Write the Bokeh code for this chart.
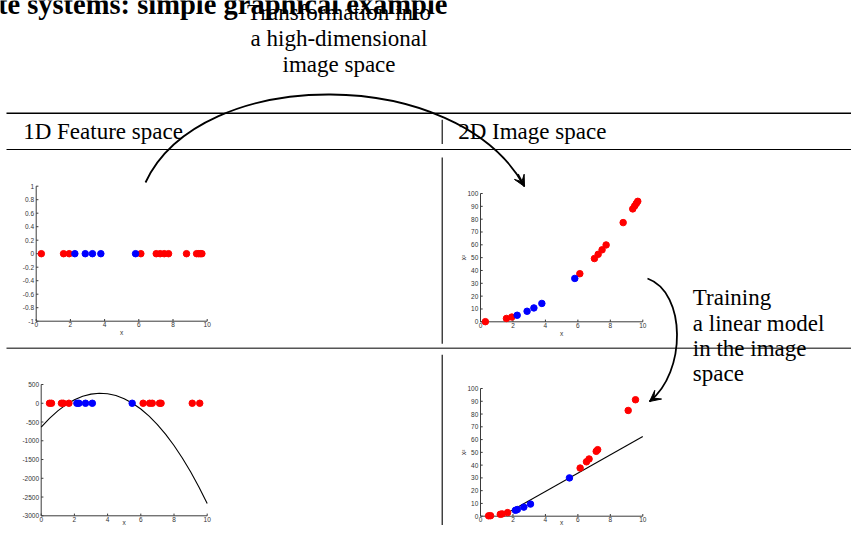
import math
from bokeh.plotting import figure
from bokeh.models import Range1d, Arrow, VeeHead
from bokeh.core.properties import value
from bokeh.embed import file_html
from bokeh.resources import INLINE

# ---------------- data ----------------
# 1D feature values (top row) and their squares (image space)
top_red_x = [0.3, 1.6, 1.93, 6.12, 7.02, 7.25, 7.49, 7.74, 8.79, 9.38, 9.5, 9.6, 9.69]
top_red_sq = [0.1, 2.6, 3.7, 37.5, 49.3, 52.6, 56.1, 59.9, 77.3, 88.0, 90.3, 92.2, 93.9]
top_blue_x = [2.26, 2.87, 3.29, 3.78, 5.81]
top_blue_sq = [5.1, 8.2, 10.8, 14.3, 33.8]

# bottom row
bot_red_x = [0.5, 0.62, 1.22, 1.33, 1.67, 6.14, 6.53, 6.69, 7.13, 7.22, 9.1, 9.55]
bot_red_sq = [0.3, 0.4, 1.5, 1.8, 2.8, 37.7, 42.6, 44.8, 50.8, 52.1, 82.8, 91.2]
bot_blue_x = [2.15, 2.27, 2.67, 3.08, 5.48]
bot_blue_sq = [4.6, 5.2, 7.1, 9.5, 30.0]

# decision function in the 1D feature space
curve_x = [0, 0.5, 1, 1.5, 2, 2.5, 3, 3.5, 4, 4.5, 5, 5.5, 6, 6.5, 7, 7.5, 8, 8.5, 9, 9.5, 10]
curve_y = [-639, -403, -203, -38, 91, 185, 243, 266, 253, 205, 121, 2, -153, -343, -569,
           -831, -1127, -1460, -1827, -2231, -2669]

# linear model in the image space
lin_x = [1.3, 10]
lin_y = [0, 62.4]

# ticks
x_ticks = [0, 2, 4, 6, 8, 10]
x_tick_labels = ["0", "2", "4", "6", "8", "10"]
y1_ticks = [-1, -0.8, -0.6, -0.4, -0.2, 0, 0.2, 0.4, 0.6, 0.8, 1]
y1_tick_labels = ["-1", "-0.8", "-0.6", "-0.4", "-0.2", "0", "0.2", "0.4", "0.6", "0.8", "1"]
y2_ticks = [500, 0, -500, -1000, -1500, -2000, -2500, -3000]
y2_tick_labels = ["500", "0", "-500", "-1000", "-1500", "-2000", "-2500", "-3000"]
y3_ticks = [0, 10, 20, 30, 40, 50, 60, 70, 80, 90, 100]
y3_tick_labels = ["0", "10", "20", "30", "40", "50", "60", "70", "80", "90", "100"]

title_text = "te systems: simple graphical example"
transform_text = ["Transformation into", "a high-dimensional", "image space"]
training_text = ["Training", "a linear model", "in the image", "space"]
header_text = ["1D Feature space", "2D Image space"]

# ---------------- canvas ----------------
SERIF = value("Liberation Serif")
SANS = value("Liberation Sans")
AX = "#3a3a3a"
RED = "#ff0000"
BLUE = "#0000ff"
SH = 7.0  # baseline correction for 23px serif text

p = figure(width=851, height=525, x_range=Range1d(0, 851), y_range=Range1d(525, 0),
           output_backend="svg", toolbar_location=None, min_border=0,
           x_axis_type=None, y_axis_type=None)
p.outline_line_color = None
p.background_fill_color = "white"
p.border_fill_color = "white"

# table rules
p.segment(x0=[6], y0=[112.7], x1=[870], y1=[112.7], line_color="black", line_width=1.6)
p.segment(x0=[6], y0=[149], x1=[870], y1=[149], line_color="black", line_width=1.1)
p.segment(x0=[6], y0=[347.7], x1=[870], y1=[347.7], line_color="#555555", line_width=1.6)
p.segment(x0=[441.7] * 3, y0=[119.3, 157, 354.3], x1=[441.7] * 3, y1=[143.5, 343.3, 545],
          line_color="black", line_width=1.1)

# texts
p.text(x=[447], y=[13 - 8.6], text=[title_text], text_align="right", text_baseline="alphabetic",
       text_font=SERIF, text_font_size="28.5px", text_font_style="bold", text_color="black")
p.text(x=[338.5] * 3, y=[19.3 - SH, 45 - SH, 70.7 - SH], text=transform_text, text_align="center",
       text_baseline="alphabetic", text_font=SERIF, text_font_size="23px", text_color="black")
p.text(x=[22.7, 457.7], y=[138 - SH, 138 - SH], text=header_text, text_align="left",
       text_baseline="alphabetic", text_font=SERIF, text_font_size="23px", text_color="black")
p.text(x=[692.3] * 4, y=[304.3 - SH, 329.7 - SH, 355 - SH, 380.3 - SH], text=training_text,
       text_align="left", text_baseline="alphabetic", text_font=SERIF, text_font_size="23px",
       text_color="black")


# ---------------- subplots ----------------
def panel(xlim, ylim, xpix, ypix, yticks, ylabels, ylabel=None, xlab_off=11.3):
    sp = p.subplot(x_source=Range1d(*xlim), y_source=Range1d(*ylim),
                   x_target=Range1d(*xpix), y_target=Range1d(*ypix))
    dx = (xlim[1] - xlim[0]) / (xpix[1] - xpix[0])
    dy = (ylim[1] - ylim[0]) / (ypix[0] - ypix[1])
    x0, x1 = xlim
    y0, y1 = ylim
    sp.segment(x0=[x0, x0], y0=[y0, y0], x1=[x1, x0], y1=[y0, y1], line_color=AX, line_width=1)
    n = len(x_ticks)
    m = len(yticks)
    sp.segment(x0=x_ticks, y0=[y0] * n, x1=x_ticks, y1=[y0 + 2.2 * dy] * n,
               line_color=AX, line_width=1)
    sp.segment(x0=[x0] * m, y0=yticks, x1=[x0 + 2.2 * dx] * m, y1=yticks,
               line_color=AX, line_width=1)
    sp.text(x=x_ticks, y=[y0 - 1.2 * dy] * n, text=x_tick_labels, text_align="center",
            text_baseline="top", text_font=SANS, text_font_size="6.5px", text_color="#333333")
    sp.text(x=[x0 - 2.2 * dx] * m, y=yticks, text=ylabels, text_align="right",
            text_baseline="middle", text_font=SANS, text_font_size="6.5px", text_color="#333333")
    sp.text(x=[(x0 + x1) / 2], y=[y0 - xlab_off * dy], text=["x"], text_align="center",
            text_baseline="middle", text_font=SANS, text_font_size="6.5px", text_color="#333333")
    if ylabel:
        sp.text(x=[x0 - 17.3 * dx], y=[(y0 + y1) / 2], text=[ylabel], text_align="center",
                text_baseline="middle", angle=math.pi / 2, text_font=SANS,
                text_font_size="6.5px", text_color="#333333")
    return sp


s1 = panel((0, 10), (-1, 1), (35.7, 206.7), (320.7, 185.7), y1_ticks, y1_tick_labels)
s1.scatter(x=top_red_x, y=[0] * len(top_red_x), size=6.5, color=RED)
s1.scatter(x=top_blue_x, y=[0] * len(top_blue_x), size=6.5, color=BLUE)

s3 = panel((0, 10), (0, 100), (480, 642.3), (321.3, 193), y3_ticks, y3_tick_labels, "x²")
s3.scatter(x=top_red_x, y=top_red_sq, size=6.5, color=RED)
s3.scatter(x=top_blue_x, y=top_blue_sq, size=6.5, color=BLUE)

s2 = panel((0, 10), (-3000, 500), (40.7, 206.7), (515.3, 384), y2_ticks, y2_tick_labels,
           xlab_off=6.5)
s2.line(x=curve_x, y=curve_y, line_color="black", line_width=1.1)
s2.scatter(x=bot_red_x, y=[0] * len(bot_red_x), size=6.5, color=RED)
s2.scatter(x=bot_blue_x, y=[0] * len(bot_blue_x), size=6.5, color=BLUE)

s4 = panel((0, 10), (0, 100), (480, 642.3), (515.7, 388), y3_ticks, y3_tick_labels, "x²",
           xlab_off=6.5)
s4.line(x=lin_x, y=lin_y, line_color="black", line_width=1.1)
s4.scatter(x=bot_red_x, y=bot_red_sq, size=6.5, color=RED)
s4.scatter(x=bot_blue_x, y=bot_blue_sq, size=6.5, color=BLUE)

# ---------------- arrows ----------------
p.bezier(x0=[145], y0=[182], x1=[524], y1=[186], cx0=[200], cy0=[64], cx1=[457], cy1=[64],
         line_color="black", line_width=1.8)
p.add_layout(Arrow(end=VeeHead(size=11, fill_color="black", line_color="black"),
                   x_start=524 - 6.6, y_start=186 - 12.3, x_end=524, y_end=186,
                   line_color="black", line_width=1.8))

p.bezier(x0=[647], y0=[278], x1=[649], y1=[401], cx0=[686], cy0=[292], cx1=[686], cy1=[372],
         line_color="black", line_width=1.8)
p.add_layout(Arrow(end=VeeHead(size=11, fill_color="black", line_color="black"),
                   x_start=649 + 3.7, y_start=401 - 2.9, x_end=649, y_end=401,
                   line_color="black", line_width=1.8))

p.add_layout(Arrow(end=VeeHead(size=11, fill_color="black", line_color="black"),
                   x_start=172, y_start=548, x_end=161, y_end=531,
                   line_color="black", line_width=1.8))
p.segment(x0=[511], y0=[530], x1=[503], y1=[545], line_color="black", line_width=1.8)

open("out.html", "w").write(file_html(p, INLINE))
